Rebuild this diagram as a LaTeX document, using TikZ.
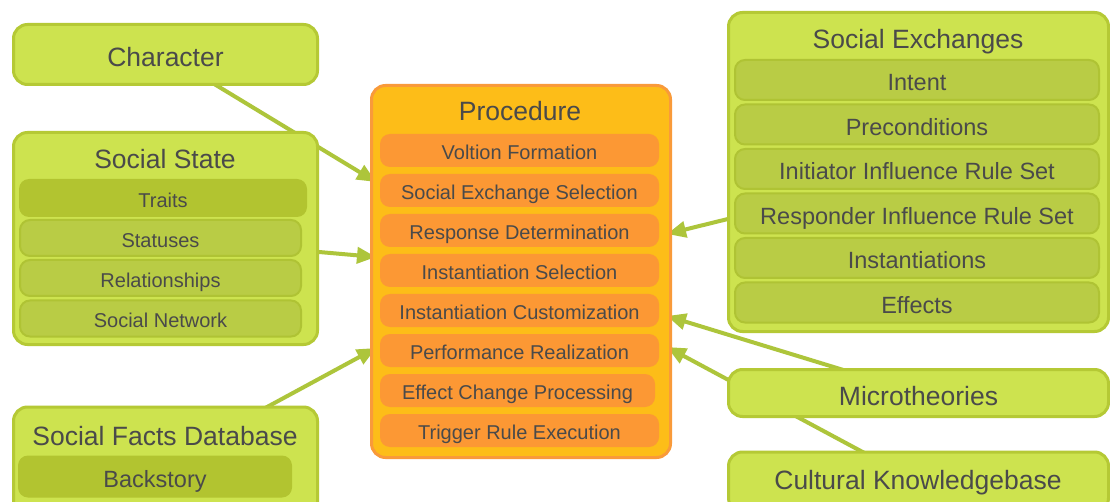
\documentclass[tikz,border=0pt]{standalone}
\usepackage{fontspec}
\setmainfont{Liberation Sans}
\usetikzlibrary{arrows.meta}
\pgfdeclarelayer{bg}
\pgfsetlayers{bg,main}
\definecolor{gfill}{HTML}{CDE34F}
\definecolor{gborder}{HTML}{B5C935}
\definecolor{gitemfill}{HTML}{B9CC45}
\definecolor{gitemborder}{HTML}{AFC334}
\definecolor{gdark}{HTML}{B2C430}
\definecolor{pfill}{HTML}{FDBD18}
\definecolor{pborder}{HTML}{F99A3A}
\definecolor{pitemfill}{HTML}{FC9834}
\definecolor{conncol}{HTML}{ADC53B}
\definecolor{txt}{HTML}{4A4A4A}
\begin{document}
\begin{tikzpicture}[x=1pt,y=-1pt,
  every node/.style={inner sep=0pt, text=txt},
  outer/.style={draw=gborder, fill=gfill, line width=3pt, rounded corners=14pt},
  pouter/.style={draw=pborder, fill=pfill, line width=3pt, rounded corners=14pt},
  bigtext/.style={font=\fontsize{26.5}{30}\selectfont},
  midtext/.style={font=\fontsize{23.5}{27}\selectfont},
  smalltext/.style={font=\fontsize{20}{24}\selectfont},
  bigbox/.style={bigtext, text height=24.4pt, text depth=0pt},
  midbox/.style={midtext, text height=21.6pt, text depth=0pt},
  smallbox/.style={smalltext, text height=18.4pt, text depth=0pt},
  gitem/.style={draw=gitemborder, fill=gitemfill, line width=2pt, rounded corners=10pt},
  gdarkitem/.style={fill=gdark, rounded corners=10pt},
  pitem/.style={fill=pitemfill, rounded corners=10pt, minimum height=33pt, smallbox},
  conn/.style={draw=conncol, line width=4pt, -{Triangle[length=19pt,width=16pt]}}
]
\clip (0,0) rectangle (1110,502);

% Character
\node[outer, bigbox, minimum width=304pt, minimum height=60pt] (ch) at (165.5,54.5) {Character};

% Social State
\node[outer, minimum width=304pt, minimum height=212pt] (ss) at (165.5,238.5) {};
\node[bigbox] (sst) at (165,156.5) {Social State};
\node[gdarkitem, smallbox, minimum width=288pt, minimum height=38pt] (ss1) at (163,198) {Traits};
\node[gitem, smallbox, minimum width=281pt, minimum height=36pt] (ss2) at (160.5,238) {Statuses};
\node[gitem, smallbox, minimum width=281pt, minimum height=36pt] (ss3) at (160.5,278) {Relationships};
\node[gitem, smallbox, minimum width=281pt, minimum height=36pt] (ss4) at (160.5,318.5) {Social Network};

% Social Facts Database
\node[outer, minimum width=304pt, minimum height=110pt] (sf) at (165.5,462) {};
\node[bigbox] (sft) at (165,433.5) {Social Facts Database};
\node[gdarkitem, midbox, minimum width=274pt, minimum height=42pt] (sf1) at (155,476.5) {Backstory};

% Procedure
\node[pouter, minimum width=299pt, minimum height=372pt] (pr) at (521,271.5) {};
\node[bigbox] (prt) at (520,108.5) {Procedure};
\node[pitem, minimum width=279pt] (p1) at (519.5,150.5) {Voltion Formation};
\node[pitem, minimum width=279pt] (p2) at (519.5,190.5) {Social Exchange Selection};
\node[pitem, minimum width=279pt] (p3) at (519.5,230.5) {Response Determination};
\node[pitem, minimum width=279pt] (p4) at (519.5,270.5) {Instantiation Selection};
\node[pitem, minimum width=279pt] (p5) at (519.5,310.5) {Instantiation Customization};
\node[pitem, minimum width=279pt] (p6) at (519.5,350.5) {Performance Realization};
\node[pitem, minimum width=275pt] (p7) at (517.5,390.5) {Effect Change Processing};
\node[pitem, minimum width=279pt] (p8) at (519.5,430.5) {Trigger Rule Execution};

% Social Exchanges
\node[outer, minimum width=380pt, minimum height=319pt] (se) at (918.5,172) {};
\node[bigbox] (set) at (918,36.5) {Social Exchanges};
\node[gitem, midbox, minimum width=364pt, minimum height=40pt] (se1) at (917,80) {Intent};
\node[gitem, midbox, minimum width=364pt, minimum height=40pt] (se2) at (917,124.5) {Preconditions};
\node[gitem, midbox, minimum width=364pt, minimum height=40pt] (se3) at (917,169) {Initiator Influence Rule Set};
\node[gitem, midbox, minimum width=364pt, minimum height=40pt] (se4) at (917,213.5) {Responder Influence Rule Set};
\node[gitem, midbox, minimum width=364pt, minimum height=40pt] (se5) at (917,258) {Instantiations};
\node[gitem, midbox, minimum width=364pt, minimum height=40pt] (se6) at (917,302.5) {Effects};

% Microtheories and Cultural Knowledgebase
\node[outer, bigbox, minimum width=380pt, minimum height=47pt] (mt) at (918.5,393) {Microtheories};
\node[outer, minimum width=380pt, minimum height=60pt] (ck) at (918.5,482) {};
\node[bigbox] (ckt) at (918,477.5) {Cultural Knowledgebase};

% arrow targets on the Procedure box
\coordinate (tch) at (376,182);
\coordinate (tss) at (376,257);
\coordinate (tsf) at (376,348);
\coordinate (tse) at (667,234);
\coordinate (tmt) at (667,316);
\coordinate (tck) at (667,347);

\begin{pgfonlayer}{bg}
\fill[white] (0,0) rectangle (1110,502);
\draw[conn] (ch.center) -- (tch);
\draw[conn] (ss.center) -- (tss);
\draw[conn] (sf.center) -- (tsf);
\draw[conn] (se.center) -- (tse);
\draw[conn] (mt.center) -- (tmt);
\draw[conn] (ck.center) -- (tck);
\end{pgfonlayer}
\end{tikzpicture}
\end{document}
